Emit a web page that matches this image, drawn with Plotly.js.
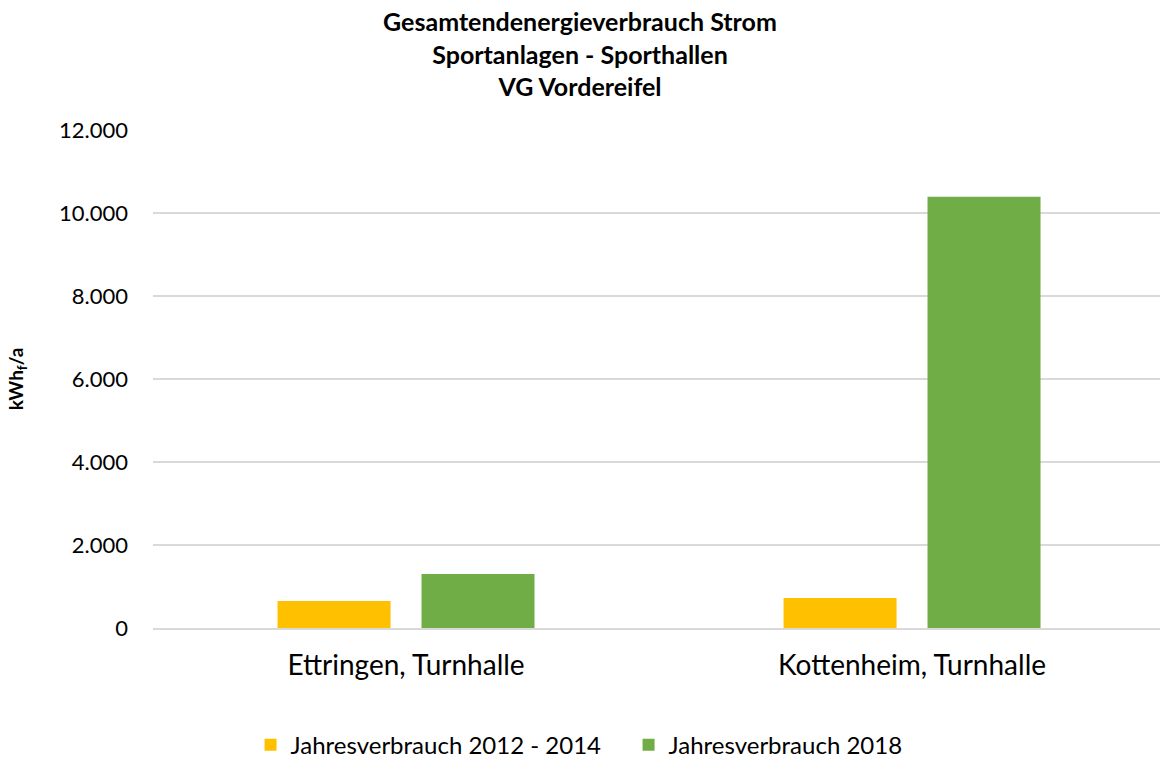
<!DOCTYPE html>
<html>
<head>
<meta charset="utf-8">
<script src="https://cdn.plot.ly/plotly-3.0.1.min.js"></script>
<style>html,body{margin:0;padding:0;background:#fff;}#chart{width:1160px;height:758px;}</style>
</head>
<body>
<div id="chart"></div>
<script>
const categories = ["Ettringen, Turnhalle", "Kottenheim, Turnhalle"];
const seriesNames = ["Jahresverbrauch 2012 - 2014", "Jahresverbrauch 2018"];
const values2012_2014 = [650, 720];
const values2018 = [1300, 10390];
const yTickVals = [0, 2000, 4000, 6000, 8000, 10000, 12000];

const font = "Lato, 'Open Sans', sans-serif";

const traces = [
  {type: "bar", name: seriesNames[0], x: categories, y: values2012_2014,
   marker: {color: "#FFC000"}, hoverinfo: "y"},
  {type: "bar", name: seriesNames[1], x: categories, y: values2018,
   marker: {color: "#70AD47"}, hoverinfo: "y"}
];

const layout = {
  width: 1160, height: 758,
  paper_bgcolor: "#fff", plot_bgcolor: "#fff",
  separators: ",.",
  margin: {l: 153, r: 0, t: 130, b: 130},
  barmode: "group",
  bargap: 0.431,
  bargroupgap: 0.215,
  font: {family: font, color: "#000"},
  title: {
    text: "<b>Gesamtendenergieverbrauch Strom</b><br><b>Sportanlagen - Sporthallen</b><br><b>VG Vordereifel</b>",
    font: {family: font, size: 25, color: "#000"},
    x: 0.5, xanchor: "center", y: 0.959, yanchor: "middle", automargin: false
  },
  xaxis: {
    type: "category",
    range: [-0.5, 1.49],
    showgrid: false, zeroline: false,
    showline: true, linecolor: "#d9d9d9", linewidth: 1.5,
    ticks: "", tickfont: {family: font, size: 28, color: "#000"},
    ticklabelstandoff: 12
  },
  yaxis: {
    range: [0, 12000],
    tickvals: yTickVals,
    tickformat: ",d",
    showgrid: true, gridcolor: "#d9d9d9", gridwidth: 1.5,
    zeroline: false, showline: false, ticks: "",
    tickfont: {family: font, size: 22, color: "#000"},
    ticklabelstandoff: 24,
    title: {text: "<b>kWh<sub>f</sub>/a</b>", font: {family: font, size: 19, color: "#000"}, standoff: 30}
  },
  legend: {
    orientation: "h", xref: "container", yref: "container",
    x: 0.216, xanchor: "left", y: 0.017, yanchor: "middle",
    font: {family: font, size: 24, color: "#000"},
    itemwidth: 30, entrywidth: 333, traceorder: "normal"
  },
  showlegend: true
};

Plotly.newPlot("chart", traces, layout, {displayModeBar: false, responsive: false});
</script>
</body>
</html>
